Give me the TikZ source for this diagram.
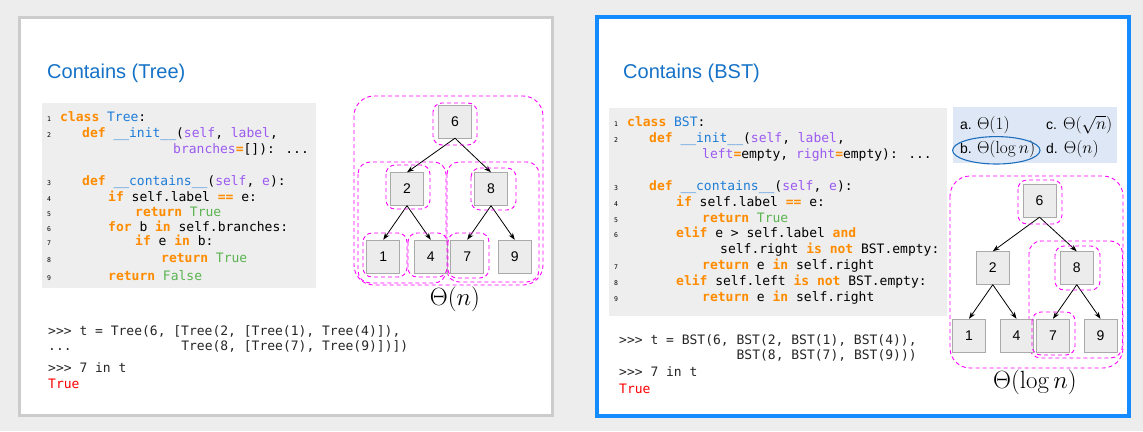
\documentclass[tikz,border=0pt]{standalone}
\usepackage[no-math]{fontspec}
\usepackage{amsmath}
\usepackage{tikz}
\usetikzlibrary{positioning}
\usetikzlibrary{arrows.meta}
\newfontfamily\sansf{Liberation Sans}
\newfontfamily\monof{DejaVu Sans Mono}
\definecolor{kwc}{RGB}{255,140,0}
\definecolor{cnc}{RGB}{30,125,215}
\definecolor{prc}{RGB}{155,90,240}
\definecolor{tvc}{RGB}{90,180,80}
\definecolor{ttl}{RGB}{21,114,199}
\definecolor{bgc}{RGB}{237,237,237}
\definecolor{codebg}{RGB}{238,238,238}
\definecolor{optbg}{RGB}{222,231,245}
\definecolor{framegray}{RGB}{204,204,204}
\definecolor{frameblue}{RGB}{20,140,255}
\definecolor{nodegray}{RGB}{236,236,236}
\definecolor{nodeline}{RGB}{170,170,170}
\definecolor{ansblue}{RGB}{30,110,190}
\definecolor{regc}{RGB}{255,0,255}
\newcommand\kw[1]{{\bfseries\color{kwc}#1}}
\newcommand\cn[1]{\textcolor{cnc}{#1}}
\newcommand\pr[1]{\textcolor{prc}{#1}}
\newcommand\tv[1]{\textcolor{tvc}{#1}}
\newlength\chw \setlength\chw{7.83pt}
\tikzset{%
  panel/.style = {fill=white, line width=3pt},
  title/.style = {anchor=base west, inner sep=0, text=ttl,
        font=\sansf\fontsize{20}{24}\selectfont},
  code/.style = {anchor=base west, inner sep=0,
        font=\monof\fontsize{13}{15}\selectfont},
  lnum/.style = {anchor=base west, inner sep=0,
        font=\monof\fontsize{6.5}{7}\selectfont},
  tbox/.style = {rectangle, draw=nodeline, fill=nodegray, inner sep=0,
        minimum width=33pt, minimum height=33pt,
        font=\sansf\fontsize{14}{14}\selectfont},
  childarrow/.style = {-{Stealth[length=7pt,width=5pt]}, line width=0.8pt},
  region/.style = {draw=regc, dash pattern=on 4pt off 3pt,
        line width=0.9pt, rounded corners=9pt},
  bigo/.style = {anchor=base, inner sep=0, font=\fontsize{24}{24}\selectfont},
  opt/.style = {anchor=base west, inner sep=0,
        font=\sansf\fontsize{14}{14}\selectfont}
}
\begin{document}
\begin{tikzpicture}[x=1pt, y=-1pt,
        level distance=67.5pt,
        level 1/.style={sibling distance=84pt},
        level 2/.style={sibling distance=47.5pt},
        parent anchor=south, child anchor=north,
        edge from parent/.style={draw, childarrow}]
    \useasboundingbox (0,0) rectangle (1143,431);
    \fill[bgc] (0,0) rectangle (1143,431);
    \draw[panel, draw=framegray] (19.5,17.5) rectangle (552.5,415.5);
    \draw[panel, draw=frameblue, line width=4pt] (597,17) rectangle (1129,416);

    % Tree panel
    \node[title] (ttree) at (47,78.3) {Contains (Tree)};
    \fill[codebg] (41.7,103.3) rectangle (315.7,287.7);
    \foreach \x/\y/\lno/\txt [count=\i] in {
        60/121/1/{\kw{class} \cn{Tree}:},
        82/137/2/{\kw{def} \cn{\_\_init\_\_}(\pr{self}, \pr{label},},
        173/153//{\pr{branches}\kw{=}[]): ...},
        82/185/3/{\kw{def} \cn{\_\_contains\_\_}(\pr{self}, \pr{e}):},
        108/201/4/{\kw{if} self.label \kw{==} e:},
        135/216/5/{\kw{return} \tv{True}},
        108/231/6/{\kw{for} b \kw{in} self.branches:},
        135/245/7/{\kw{if} e \kw{in} b:},
        161/262/8/{\kw{return} \tv{True}},
        108/280/9/{\kw{return} \tv{False}}}
    {
        \node[lnum] (tn\i) at (47,\y) {\lno};
        \node[code] (tc\i) at (\x,\y) {\txt};
    }
    \node[code, text=black!85] (trep1) at (48,335) {>{}>{}> t = Tree(6, [Tree(2, [Tree(1), Tree(4)]),};
    \node[code, text=black!85] (trep2) at (48,350) {...\hspace*{14\chw}Tree(8, [Tree(7), Tree(9)])])};
    \node[code, text=black!85] (trep3) at (48,372) {>{}>{}> 7 in t};
    \node[code, text=red] (tres) at (48,388.5) {True};

    \draw[region, rounded corners=20pt] (354,96) rectangle (543,285);
    \draw[region, rounded corners=12pt] (358,162) rectangle (446,283);
    \draw[region, rounded corners=12pt] (447,162) rectangle (539,282);
    \node[tbox] (t6) at (455,121.5) {6}
        child[xshift=-6pt]{ node[tbox] (t2) {2}
            child{ node[tbox] (t1) {1} }
            child{ node[tbox] (t4) {4} }
        }
        child[xshift=-6pt]{ node[tbox] (t8) {8}
            child{ node[tbox] (t7) {7} }
            child{ node[tbox] (t9) {9} }
        };
    \draw[region] (433,103) rectangle (477,145);
    \draw[region] (386,165) rectangle (430,209);
    \draw[region] (471,168) rectangle (516,210);
    \draw[region] (363,233) rectangle (407,277);
    \draw[region] (408,233) rectangle (447,277);
    \draw[region] (448,233) rectangle (489,278);
    \node[bigo] (tcost) at (455,305) {$\Theta(n)$};

    % BST panel
    \node[title] (tbst) at (623,78.3) {Contains (BST)};
    \fill[codebg] (608.5,108) rectangle (946.5,315.5);
    \foreach \x/\y/\lno/\txt [count=\i] in {
        627/126/1/{\kw{class} \cn{BST}:},
        649/142/2/{\kw{def} \cn{\_\_init\_\_}(\pr{self}, \pr{label},},
        702/158//{\pr{left}\kw{=}empty, \pr{right}\kw{=}empty): ...},
        649/190/3/{\kw{def} \cn{\_\_contains\_\_}(\pr{self}, \pr{e}):},
        676/206/4/{\kw{if} self.label \kw{==} e:},
        702/222/5/{\kw{return} \tv{True}},
        676/237/6/{\kw{elif} e > self.label \kw{and}},
        720/253//{self.right \kw{is} \kw{not} BST.empty:},
        702/269/7/{\kw{return} e \kw{in} self.right},
        676/285/8/{\kw{elif} self.left \kw{is} \kw{not} BST.empty:},
        702/301/9/{\kw{return} e \kw{in} self.right}}
    {
        \node[lnum] (bn\i) at (614,\y) {\lno};
        \node[code] (bc\i) at (\x,\y) {\txt};
    }
    \node[code, text=black!85] (brep1) at (619,344) {>{}>{}> t = BST(6, BST(2, BST(1), BST(4)),};
    \node[code, text=black!85] (brep2) at (619,359) {\hspace*{15\chw}BST(8, BST(7), BST(9)))};
    \node[code, text=black!85] (brep3) at (619,376) {>{}>{}> 7 in t};
    \node[code, text=red] (bres) at (619,393) {True};

    % answer choices
    \fill[optbg] (952.7,107.3) rectangle (1117.3,163.3);
    \node[opt] (oa) at (960,129.5) {a. {\fontsize{16}{16}\selectfont$\Theta(1)$}};
    \node[opt] (oc) at (1046,129.5) {c.\hspace{6pt}{\fontsize{16}{16}\selectfont$\Theta(\sqrt{n})$}};
    \node[opt] (ob) at (960,153.5) {b. {\fontsize{16}{16}\selectfont$\Theta(\log n)$}};
    \node[opt] (od) at (1046,153.5) {d.\hspace{6pt}{\fontsize{16}{16}\selectfont$\Theta(n)$}};
    \draw[ansblue, line width=1.1pt] (996.3,150.3) ellipse [x radius=43.7pt, y radius=13.7pt];

    \draw[region, rounded corners=20pt] (950,176) rectangle (1123,368);
    \draw[region, rounded corners=12pt] (1029,241) rectangle (1122.5,358);
    \node[tbox] (b6) at (1039.5,200.5) {6}
        child[xshift=-4.75pt]{ node[tbox] (b2) {2}
            child{ node[tbox] (b1) {1} }
            child{ node[tbox] (b4) {4} }
        }
        child[xshift=-4.75pt]{ node[tbox] (b8) {8}
            child{ node[tbox] (b7) {7} }
            child{ node[tbox] (b9) {9} }
        };
    \draw[region] (1018,180) rectangle (1062,224);
    \draw[region] (1055,246) rectangle (1100,290);
    \draw[region] (1032,312) rectangle (1075,355);
    \node[bigo] (bcost) at (1035,388) {$\Theta(\log n)$};
\end{tikzpicture}
\end{document}
